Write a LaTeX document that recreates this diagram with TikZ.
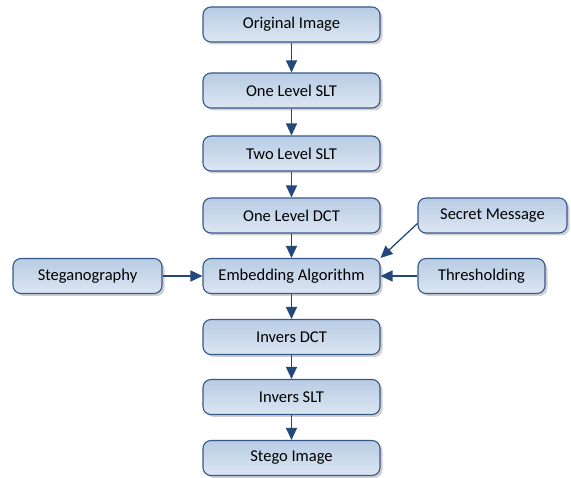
\documentclass[tikz,border=0pt]{standalone}
\usepackage{fontspec}
\setmainfont{Carlito}
\usetikzlibrary{shadows,arrows.meta}
\definecolor{boxline}{HTML}{37598A}
\definecolor{boxtop}{HTML}{B8CCE4}
\definecolor{boxbot}{HTML}{DCE6F2}
\definecolor{arr}{HTML}{24487A}
\tikzset{
  box/.style={rounded corners=8pt, draw=boxline, line width=1.1pt,
    top color=boxtop, bottom color=boxbot, minimum height=35pt,
    font=\fontsize{16.5}{19}\selectfont, inner sep=0pt,
    drop shadow={shadow xshift=2.5pt, shadow yshift=-2.5pt, fill=gray!60, opacity=0.6}},
  mainbox/.style={box, minimum width=177pt},
  conn/.style={draw=arr, line width=1.3pt, -{Triangle[length=12pt,width=11pt]}}
}
\begin{document}
\begin{tikzpicture}[x=1pt,y=-1pt]
\useasboundingbox (0,0) rectangle (571,478);
\node[mainbox] (a) at (291.5,24.5) {Original Image};
\node[mainbox] (b) at (291.5,90.5) {One Level SLT};
\node[mainbox] (c) at (291.5,153.5) {Two Level SLT};
\node[mainbox] (d) at (291.5,215.5) {One Level DCT};
\node[mainbox] (e) at (291.5,276) {Embedding Algorithm};
\node[mainbox] (f) at (291.5,337) {Invers DCT};
\node[mainbox] (g) at (291.5,397) {Invers SLT};
\node[mainbox] (h) at (291.5,458) {Stego Image};
\node[box, minimum width=149pt] (s) at (87.5,276) {Steganography};
\node[box, minimum width=149pt] (m) at (492.5,215.5) {Secret Message};
\node[box, minimum width=127pt] (t) at (481.5,276) {Thresholding};
\draw[conn] (a) -- (b);
\draw[conn] (b) -- (c);
\draw[conn] (c) -- (d);
\draw[conn] (d) -- (e);
\draw[conn] (e) -- (f);
\draw[conn] (f) -- (g);
\draw[conn] (g) -- (h);
\draw[conn] (s) -- (e);
\draw[conn] (t) -- (e);
\coordinate (mstart) at ([yshift=-8pt]m.west);
\draw[conn] (mstart) -- (e.north east);
\end{tikzpicture}
\end{document}
